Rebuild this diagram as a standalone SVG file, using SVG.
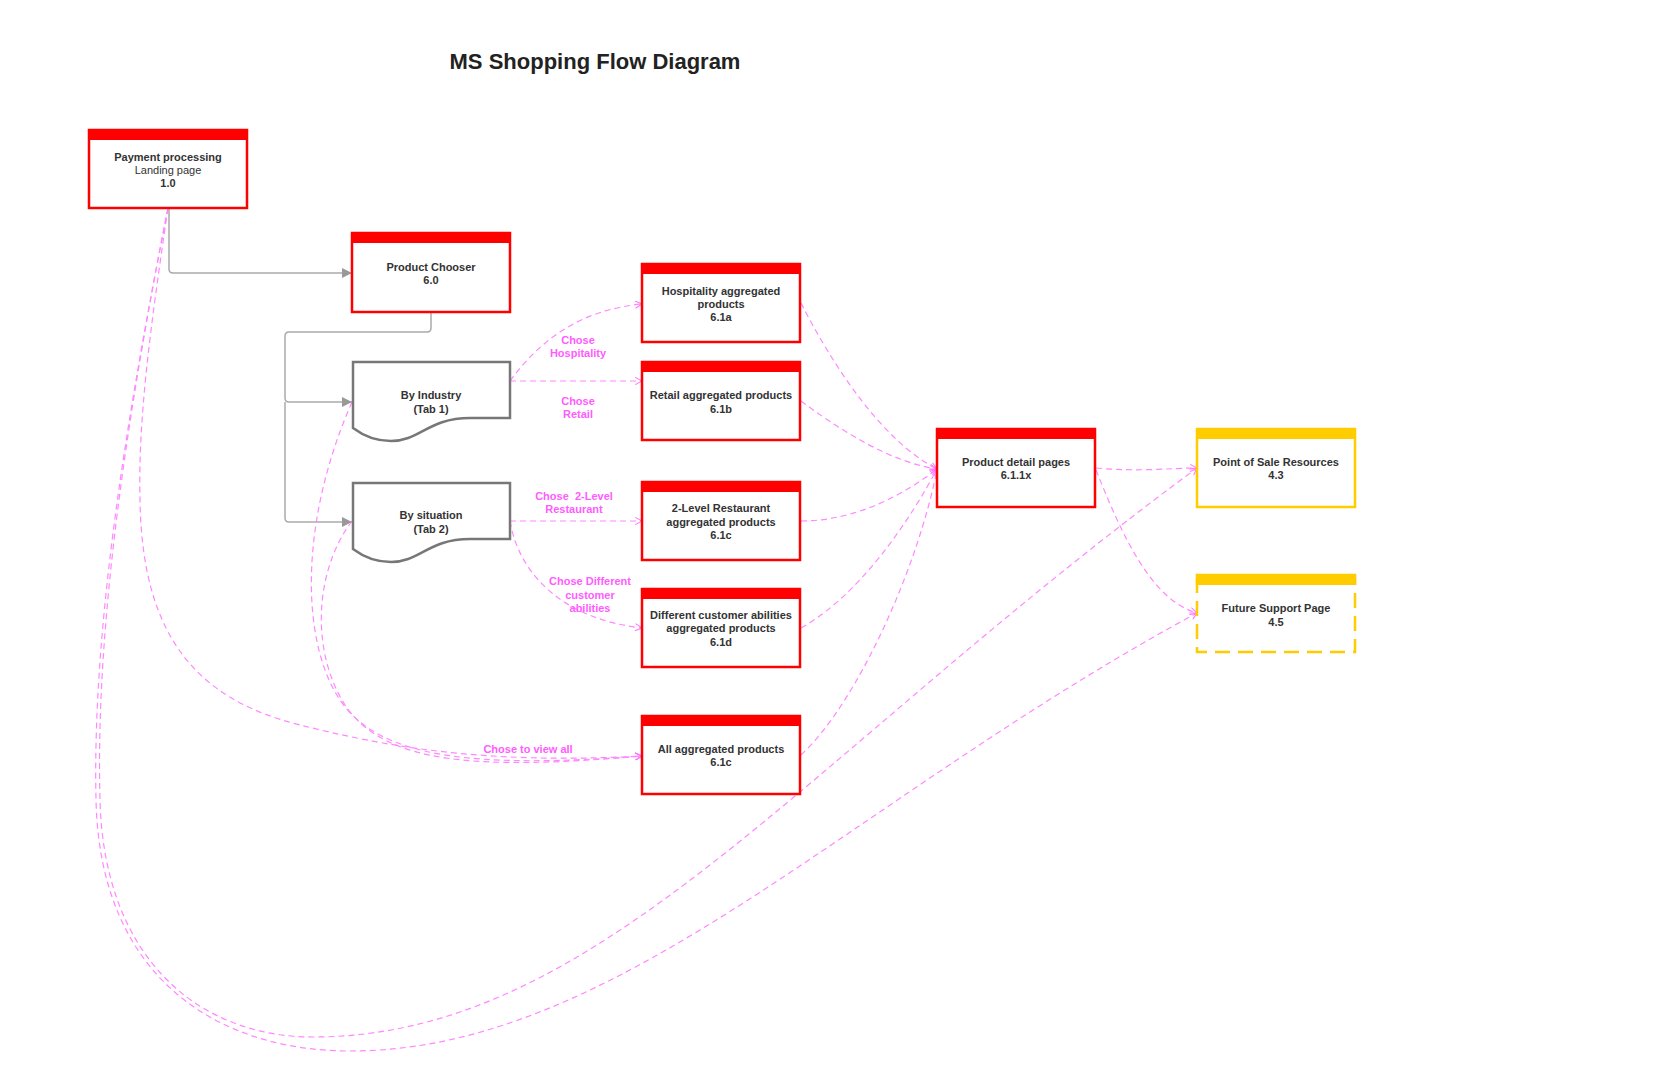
<svg xmlns="http://www.w3.org/2000/svg" width="1656" height="1075" viewBox="0 0 1656 1075">
<defs>
<style>
.box{fill:#fff;stroke:#ff0000;stroke-width:2.5}
.hdr{fill:#ff0000}
.ybox{fill:#fff;stroke:#ffcc00;stroke-width:2.5}
.yhdr{fill:#ffcc00}
.doc{fill:#fff;stroke:#777;stroke-width:2.5}
.t{font-family:"Liberation Sans",Arial,sans-serif;font-size:11px;fill:#333;text-anchor:middle}
.b{font-weight:bold}
.lbl{font-family:"Liberation Sans",Arial,sans-serif;font-size:11px;font-weight:bold;fill:#ff5cff;text-anchor:middle}
.title{font-family:"Liberation Sans",Arial,sans-serif;font-size:22px;font-weight:bold;fill:#222;text-anchor:middle}
.g{fill:none;stroke:#aaa;stroke-width:1.5;marker-end:url(#ga)}
.p{fill:none;stroke:#ff88ff;stroke-width:1.2;stroke-dasharray:6 4;marker-end:url(#pa)}
</style>
<marker id="ga" viewBox="0 0 10 10" refX="10" refY="5" markerWidth="10" markerHeight="10" markerUnits="userSpaceOnUse" orient="auto"><path d="M0,0 L10,5 L0,10 Z" fill="#999"/></marker>
<marker id="pa" viewBox="0 0 10 10" refX="9.5" refY="5" markerWidth="8" markerHeight="8" markerUnits="userSpaceOnUse" orient="auto"><path d="M1,0.5 L9.5,5 L1,9.5" fill="none" stroke="#ff77ff" stroke-width="1.3"/></marker>
</defs>
<rect width="1656" height="1075" fill="#fff"/>
<text class="title" x="595" y="69">MS Shopping Flow Diagram</text>

<g id="connectors">
<path class="g" d="M169,208 V269 Q169,273 173,273 H352"/>
<path class="g" d="M431,312 V328 Q431,332 427,332 H289 Q285,332 285,336 V398 Q285,402 289,402 H352"/>
<path class="g" d="M285,402 V518 Q285,522 289,522 H352"/>

<path class="p" d="M510,381 C540,340 580,310 642,304"/>
<path class="p" d="M510,381 H642"/>
<path class="p" d="M510,521 H642"/>
<path class="p" d="M510,521 C520,580 570,620 642,628"/>

<path class="p" d="M801,303 C830,360 880,440 937,469"/>
<path class="p" d="M801,401 C840,430 890,462 937,469"/>
<path class="p" d="M801,521 C860,521 910,490 937,469"/>
<path class="p" d="M801,628 C860,595 910,520 937,469"/>
<path class="p" d="M801,755 C860,700 920,560 937,469"/>

<path class="p" d="M1096,468 C1140,472 1170,468 1197,468"/>
<path class="p" d="M1096,470 C1120,530 1150,600 1197,613"/>

<path class="p" d="M352,402 C300,520 300,640 340,700 C380,760 480,768 642,756"/>
<path class="p" d="M352,521 C315,570 310,650 345,705 C385,765 480,770 642,756"/>
<path class="p" d="M168,208 C150,330 138,420 140,500 C142,640 200,700 300,725 C380,745 480,765 642,756"/>
<path class="p" d="M168,208 C130,400 95,620 100,800 C104,960 200,1037 313,1037 C600,1037 800,760 1197,468"/>
<path class="p" d="M168,208 C130,400 92,620 96,800 C100,980 220,1051 350,1051 C620,1051 850,800 1197,613"/>

<text class="lbl" x="578" y="344">Chose</text>
<text class="lbl" x="578" y="357">Hospitality</text>
<text class="lbl" x="578" y="405">Chose</text>
<text class="lbl" x="578" y="418">Retail</text>
<text class="lbl" x="574" y="500" style="white-space:pre">Chose  2-Level</text>
<text class="lbl" x="574" y="513">Restaurant</text>
<text class="lbl" x="590" y="585">Chose Different</text>
<text class="lbl" x="590" y="599">customer</text>
<text class="lbl" x="590" y="612">abilities</text>
<text class="lbl" x="528" y="753">Chose to view all</text>
</g>

<g id="n-payment">
<rect class="box" x="89" y="130" width="158" height="78"/>
<rect class="hdr" x="89" y="130" width="158" height="10"/>
<text class="t b" x="168" y="161">Payment processing</text>
<text class="t" x="168" y="174">Landing page</text>
<text class="t b" x="168" y="187">1.0</text>
</g>

<g id="n-chooser">
<rect class="box" x="352" y="233" width="158" height="79"/>
<rect class="hdr" x="352" y="233" width="158" height="10"/>
<text class="t b" x="431" y="271">Product Chooser</text>
<text class="t b" x="431" y="284">6.0</text>
</g>

<g id="n-industry">
<path class="doc" d="M353,362 H510 V418 H470 C428,418 420,441 391,441 C373,441 361,434 353,428 Z"/>
<text class="t b" x="431" y="399">By Industry</text>
<text class="t b" x="431" y="413">(Tab 1)</text>
</g>

<g id="n-situation">
<path class="doc" d="M353,483 H510 V539 H470 C428,539 420,562 391,562 C373,562 361,555 353,549 Z"/>
<text class="t b" x="431" y="519">By situation</text>
<text class="t b" x="431" y="533">(Tab 2)</text>
</g>

<g id="n-hospitality">
<rect class="box" x="642" y="264" width="158" height="78"/>
<rect class="hdr" x="642" y="264" width="158" height="10"/>
<text class="t b" x="721" y="295">Hospitality aggregated</text>
<text class="t b" x="721" y="308">products</text>
<text class="t b" x="721" y="321">6.1a</text>
</g>

<g id="n-retail">
<rect class="box" x="642" y="362" width="158" height="78"/>
<rect class="hdr" x="642" y="362" width="158" height="10"/>
<text class="t b" x="721" y="399">Retail aggregated products</text>
<text class="t b" x="721" y="413">6.1b</text>
</g>

<g id="n-restaurant">
<rect class="box" x="642" y="482" width="158" height="78"/>
<rect class="hdr" x="642" y="482" width="158" height="10"/>
<text class="t b" x="721" y="512">2-Level Restaurant</text>
<text class="t b" x="721" y="526">aggregated products</text>
<text class="t b" x="721" y="539">6.1c</text>
</g>

<g id="n-different">
<rect class="box" x="642" y="589" width="158" height="78"/>
<rect class="hdr" x="642" y="589" width="158" height="10"/>
<text class="t b" x="721" y="619">Different customer abilities</text>
<text class="t b" x="721" y="632">aggregated products</text>
<text class="t b" x="721" y="646">6.1d</text>
</g>

<g id="n-all">
<rect class="box" x="642" y="716" width="158" height="78"/>
<rect class="hdr" x="642" y="716" width="158" height="10"/>
<text class="t b" x="721" y="753">All aggregated products</text>
<text class="t b" x="721" y="766">6.1c</text>
</g>

<g id="n-detail">
<rect class="box" x="937" y="429" width="158" height="78"/>
<rect class="hdr" x="937" y="429" width="158" height="10"/>
<text class="t b" x="1016" y="466">Product detail pages</text>
<text class="t b" x="1016" y="479">6.1.1x</text>
</g>

<g id="n-pos">
<rect class="ybox" x="1197" y="429" width="158" height="78"/>
<rect class="yhdr" x="1197" y="429" width="158" height="10"/>
<text class="t b" x="1276" y="466">Point of Sale Resources</text>
<text class="t b" x="1276" y="479">4.3</text>
</g>

<g id="n-support">
<rect x="1197" y="575" width="158" height="77" fill="#fff"/>
<path d="M1197,578 V652 H1355 V578" fill="none" stroke="#ffcc00" stroke-width="2.5" stroke-dasharray="15 8"/>
<rect class="yhdr" x="1195.75" y="573.75" width="160.5" height="11.25"/>
<text class="t b" x="1276" y="612">Future Support Page</text>
<text class="t b" x="1276" y="626">4.5</text>
</g>
</svg>
